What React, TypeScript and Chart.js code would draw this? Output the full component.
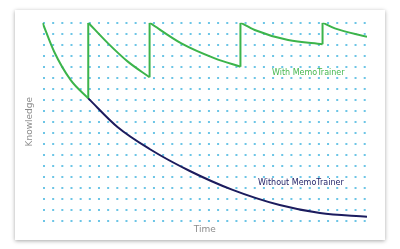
import React, { useEffect, useRef } from "react";
import { Chart, registerables } from "chart.js";

Chart.register(...registerables);

// Time (0..100) and knowledge (0..90) readings from the picture
const withSegment1: [number, number][] = [
  [0, 90], [3.6, 76.8], [8.7, 63.9], [14.1, 55.6],
];
const withSegment2: [number, number][] = [
  [14.1, 90], [20.2, 80.6], [26.3, 72.3], [33.0, 65.2],
];
const withSegment3: [number, number][] = [
  [33.0, 90], [42.8, 80.6], [53.1, 73.8], [61.0, 70.0],
];
const withSegment4: [number, number][] = [
  [61.0, 90], [65.4, 86.7], [75.7, 82.1], [86.3, 80.2],
];
const withSegment5: [number, number][] = [
  [86.3, 90], [90.1, 87.4], [100, 83.6],
];
const withoutCurve: [number, number][] = [
  [14.1, 55.6], [23.1, 42.6], [33.0, 32.6], [45.4, 22.6], [58.6, 14.0],
  [73.1, 7.1], [85.5, 3.5], [100, 1.8],
];
const labelTexts = ["With MemoTrainer", "Without MemoTrainer"];
const labelAnchors: [number, number][] = [[70.7, 67.0], [66.4, 17.0]];
const axisTitles = { x: "Time", y: "Knowledge" };

const GREEN = "#3cb44b";
const NAVY = "#1c1c5e";
const DOT = "#6cc5e6";

export default function App() {
  const ref = useRef<HTMLCanvasElement>(null);
  useEffect(() => {
    if (!ref.current) return;
    const segments = [withSegment1, withSegment2, withSegment3, withSegment4, withSegment5];
    const toPts = (a: [number, number][]) => a.map(([x, y]) => ({ x, y }));
    const jumps: { x: number; y: number | null }[] = [];
    for (let i = 0; i < segments.length - 1; i++) {
      const last = segments[i][segments[i].length - 1];
      const next = segments[i + 1][0];
      jumps.push({ x: last[0], y: last[1] }, { x: next[0], y: next[1] }, { x: next[0] + 0.01, y: null });
    }
    const lineBase = {
      borderWidth: 2,
      pointRadius: 0,
      fill: false,
      cubicInterpolationMode: "monotone" as const,
    };
    const labelPlugin = {
      id: "curveLabels",
      afterDatasetsDraw(chart: any) {
        const { ctx, scales } = chart;
        ctx.save();
        ctx.font = "8px 'DejaVu Sans'";
        ctx.textAlign = "left";
        ctx.textBaseline = "middle";
        const colors = ["#46b84f", "#24246a"];
        labelTexts.forEach((t, i) => {
          ctx.fillStyle = colors[i];
          ctx.fillText(t, scales.x.getPixelForValue(labelAnchors[i][0]), scales.y.getPixelForValue(labelAnchors[i][1]));
        });
        ctx.restore();
      },
    };
    const chart = new Chart(ref.current, {
      type: "line",
      data: {
        datasets: [
          { ...lineBase, label: "Without MemoTrainer", data: toPts(withoutCurve), borderColor: NAVY },
          ...segments.map((s, i) => ({ ...lineBase, label: "With MemoTrainer " + i, data: toPts(s), borderColor: GREEN })),
          { ...lineBase, cubicInterpolationMode: "default" as const, tension: 0, label: "reviews", data: jumps, borderColor: GREEN, spanGaps: false },
        ] as any,
      },
      options: {
        animation: false,
        responsive: false,
        maintainAspectRatio: false,
        layout: { padding: { left: 5, right: 18, top: 12.7, bottom: 0 } },
        plugins: { legend: { display: false }, tooltip: { enabled: false } },
        scales: {
          x: {
            type: "linear",
            min: 0,
            max: 100,
            grid: { display: false, drawTicks: false },
            border: { display: false },
            ticks: { display: false },
            title: {
              display: true,
              text: axisTitles.x,
              color: "#8c8c8c",
              font: { family: "'DejaVu Sans'", size: 9 },
              padding: { top: 3.9, bottom: 4.6 },
            },
          },
          y: {
            type: "linear",
            min: 0,
            max: 90,
            ticks: { display: false, stepSize: 5 },
            grid: { display: true, drawTicks: false, color: DOT, lineWidth: 2 },
            border: { display: false, dash: [2, 7.163], dashOffset: 0 },
            title: {
              display: true,
              text: axisTitles.y,
              color: "#8c8c8c",
              font: { family: "'DejaVu Sans'", size: 9 },
              padding: { top: 4.6, bottom: 7.1 },
            },
          },
        },
      },
      plugins: [labelPlugin],
    });
    return () => chart.destroy();
  }, []);
  return (
    <div style={{ position: "fixed", left: 0, top: 0, width: 400, height: 249, background: "#fff" }}>
      <div
        style={{
          position: "absolute",
          left: 15,
          top: 10,
          width: 370,
          height: 230,
          background: "#fff",
          boxShadow: "0 1px 4px rgba(0,0,0,0.35)",
        }}
      >
        <canvas ref={ref} width={370} height={230} style={{ display: "block", width: 370, height: 230 }} />
      </div>
    </div>
  );
}
